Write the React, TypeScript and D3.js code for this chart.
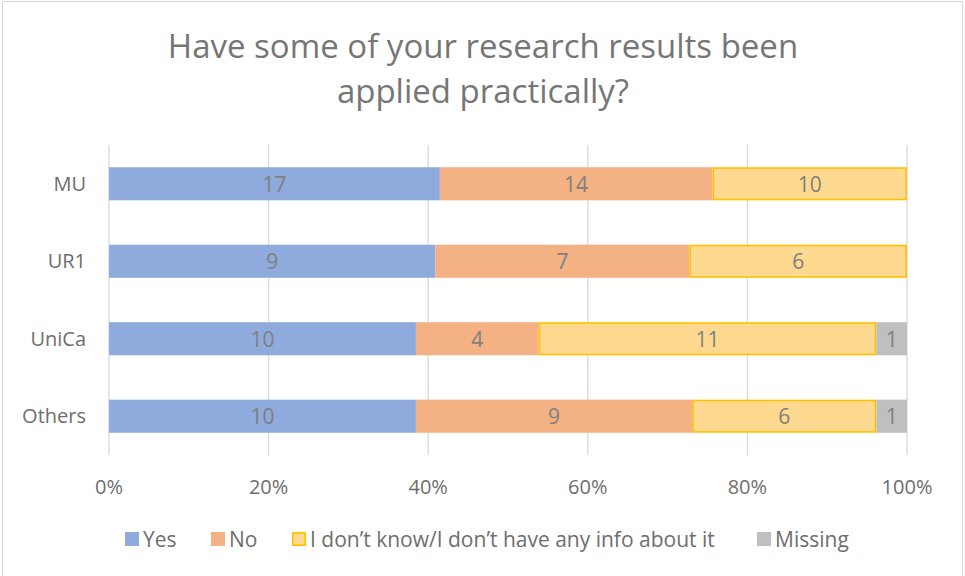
import React from "react";
import * as d3 from "d3";

const categories = ["MU", "UR1", "UniCa", "Others"];
const seriesNames = ["Yes", "No", "I don’t know/I don’t have any info about it", "Missing"];
const yesValues = [17, 9, 10, 10];
const noValues = [14, 7, 4, 9];
const dontKnowValues = [10, 6, 11, 6];
const missingValues = [0, 0, 1, 1];
const tickValues = [0, 0.2, 0.4, 0.6, 0.8, 1];
const titleLines = ["Have some of your research results been", "applied practically?"];

const colors = ["#8faadc", "#f4b183", "#ffd98f", "#bfbfbf"];
const strokes = ["none", "none", "#ffc000", "none"];

const W = 965;
const H = 576;
const FONT = "'Open Sans', Lato, sans-serif";
const TXT = "#6e6e6e";

export default function App() {
  const series = [yesValues, noValues, dontKnowValues, missingValues];
  const x = d3.scaleLinear().domain([0, 1]).range([109, 907]);
  const y = d3.scaleBand().domain(categories).range([145, 455]).paddingInner(0.573).paddingOuter(0.287);

  const rows = categories.map((c, i) => {
    const vals = series.map((s) => s[i]);
    const total = d3.sum(vals);
    let cum = 0;
    return vals.map((v, k) => {
      const start = cum / total;
      cum += v;
      return { cat: c, k, v, x0: start, x1: cum / total };
    });
  });

  const legendX = [125, 211, 292, 757];

  return (
    <svg width={W} height={H} style={{ position: "absolute", left: 0, top: 0, background: "#fff" }}>
      <rect x={2.5} y={1.5} width={960} height={590} fill="#fff" stroke="#d9d9d9" strokeWidth={1.2} />
      {titleLines.map((t, i) => (
        <text key={i} x={483} y={58 + i * 45} textAnchor="middle" fontFamily={FONT} fontSize={33} fill="#767676">
          {t}
        </text>
      ))}
      {tickValues.map((t) => (
        <g key={t}>
          <line x1={x(t)} x2={x(t)} y1={145} y2={455} stroke="#d9d9d9" strokeWidth={1.3} />
          <text x={x(t)} y={494} textAnchor="middle" fontFamily={FONT} fontSize={20} fill={TXT}>
            {d3.format(".0%")(t)}
          </text>
        </g>
      ))}
      {rows.map((segs, i) => (
        <g key={categories[i]}>
          <text x={86} y={(y(categories[i]) as number) + y.bandwidth() / 2 + 7} textAnchor="end" fontFamily={FONT} fontSize={20} fill={TXT}>
            {categories[i]}
          </text>
          {segs
            .filter((s) => s.v > 0)
            .map((s) => {
              const bx = x(s.x0);
              const bw = x(s.x1) - x(s.x0);
              const by = y(s.cat) as number;
              const sw = strokes[s.k] !== "none" ? 1.6 : 0;
              return (
                <g key={s.k}>
                  <rect
                    x={bx + sw / 2}
                    y={by + sw / 2}
                    width={bw - sw}
                    height={y.bandwidth() - sw}
                    fill={colors[s.k]}
                    stroke={strokes[s.k]}
                    strokeWidth={sw}
                  />
                  <text x={bx + bw / 2} y={by + y.bandwidth() / 2 + 8} textAnchor="middle" fontFamily={FONT} fontSize={21} fill="#808080">
                    {s.v}
                  </text>
                </g>
              );
            })}
        </g>
      ))}
      {seriesNames.map((name, i) => {
        const sw = strokes[i] !== "none" ? 1.6 : 0;
        return (
          <g key={i}>
            <rect
              x={legendX[i] + sw / 2}
              y={532 + sw / 2}
              width={14 - sw}
              height={14 - sw}
              fill={colors[i]}
              stroke={strokes[i]}
              strokeWidth={sw}
            />
            <text x={legendX[i] + 18} y={546.5} fontFamily={FONT} fontSize={21} fill={TXT}>
              {name}
            </text>
          </g>
        );
      })}
    </svg>
  );
}
